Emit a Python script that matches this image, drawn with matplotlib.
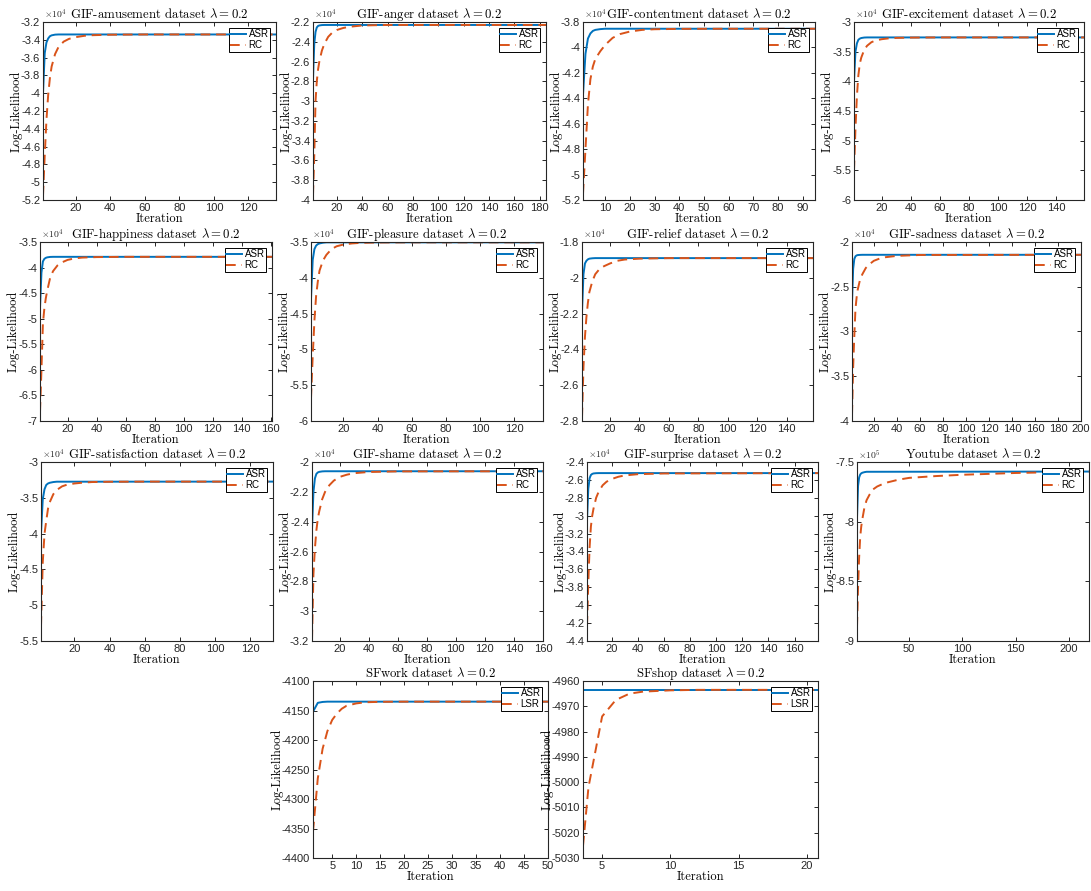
import numpy as np
import matplotlib
matplotlib.use('Agg')
import matplotlib.pyplot as plt
from matplotlib.ticker import FuncFormatter

plt.rcParams['mathtext.fontset'] = 'cm'

# iteration grids at which the curves were sampled
it_asr = [1, 2, 3, 4, 5, 6, 8, 10]
it_rc = [1, 2, 3, 4, 5, 6, 8, 10, 13, 16, 20, 25, 30, 40, 60]

datasets = ['GIF-amusement', 'GIF-anger', 'GIF-contentment', 'GIF-excitement',
            'GIF-happiness', 'GIF-pleasure', 'GIF-relief', 'GIF-sadness',
            'GIF-satisfaction', 'GIF-shame', 'GIF-surprise', 'Youtube',
            'SFwork', 'SFshop']
n_iter = [136, 185, 95, 159, 161, 137, 158, 200, 133, 160, 178, 219, 50, 21]

# log-likelihood, in units of 10^exponent (last value is the one at n_iter)
amusement_asr = [-4.0, -3.55, -3.43, -3.385, -3.36, -3.35, -3.342, -3.34, -3.34]
amusement_rc = [-5.15, -4.7, -4.3, -4.02, -3.83, -3.7, -3.56, -3.48, -3.42, -3.39,
                -3.37, -3.355, -3.348, -3.343, -3.34, -3.34]
anger_asr = [-2.78, -2.42, -2.3, -2.255, -2.24, -2.235, -2.231, -2.23, -2.23]
anger_rc = [-3.95, -3.55, -3.0, -2.8, -2.68, -2.6, -2.49, -2.42, -2.35, -2.31,
            -2.28, -2.26, -2.248, -2.235, -2.23, -2.23]
contentment_asr = [-4.37, -4.05, -3.93, -3.89, -3.87, -3.862, -3.856, -3.853, -3.853]
contentment_rc = [-5.15, -4.8, -4.45, -4.25, -4.15, -4.09, -4.03, -3.98, -3.925,
                  -3.895, -3.875, -3.862, -3.857, -3.854, -3.853, -3.853]
excitement_asr = [-4.0, -3.5, -3.36, -3.3, -3.28, -3.27, -3.262, -3.26, -3.26]
excitement_rc = [-5.5, -4.8, -4.25, -3.9, -3.7, -3.6, -3.47, -3.4, -3.34, -3.31,
                 -3.29, -3.275, -3.268, -3.263, -3.26, -3.26]
happiness_asr = [-4.79, -4.1, -3.88, -3.83, -3.81, -3.8, -3.792, -3.79, -3.79]
happiness_rc = [-6.82, -6.0, -5.1, -4.8, -4.6, -4.45, -4.2, -4.07, -3.96, -3.9,
                -3.85, -3.82, -3.805, -3.795, -3.79, -3.79]
pleasure_asr = [-4.29, -3.75, -3.6, -3.55, -3.53, -3.52, -3.51, -3.505, -3.505]
pleasure_rc = [-5.68, -5.1, -4.6, -4.25, -4.05, -3.9, -3.76, -3.68, -3.6, -3.56,
               -3.535, -3.52, -3.512, -3.507, -3.505, -3.505]
relief_asr = [-2.19, -1.98, -1.92, -1.905, -1.897, -1.893, -1.891, -1.89, -1.89]
relief_rc = [-2.78, -2.5, -2.33, -2.22, -2.14, -2.08, -2.02, -1.98, -1.95, -1.935,
             -1.92, -1.905, -1.898, -1.893, -1.89, -1.89]
sadness_asr = [-2.68, -2.3, -2.19, -2.16, -2.15, -2.146, -2.144, -2.143, -2.143]
sadness_rc = [-3.93, -3.4, -3.05, -2.75, -2.62, -2.53, -2.42, -2.36, -2.29, -2.25,
              -2.21, -2.185, -2.17, -2.155, -2.145, -2.143]
satisfaction_asr = [-4.0, -3.52, -3.38, -3.32, -3.3, -3.29, -3.28, -3.275, -3.274]
satisfaction_rc = [-5.29, -4.4, -4.0, -3.82, -3.65, -3.56, -3.45, -3.39, -3.34, -3.315,
                   -3.3, -3.288, -3.28, -3.276, -3.274, -3.274]
shame_asr = [-2.45, -2.2, -2.11, -2.08, -2.07, -2.066, -2.063, -2.062, -2.062]
shame_rc = [-3.19, -2.75, -2.58, -2.46, -2.38, -2.33, -2.25, -2.2, -2.155, -2.125,
            -2.1, -2.085, -2.075, -2.067, -2.063, -2.062]
surprise_asr = [-3.05, -2.7, -2.58, -2.545, -2.533, -2.528, -2.525, -2.524, -2.524]
surprise_rc = [-4.23, -3.75, -3.35, -3.12, -3.0, -2.92, -2.8, -2.73, -2.66, -2.62,
               -2.59, -2.565, -2.55, -2.536, -2.528, -2.524]
youtube_it_rc = [1, 2, 3, 4, 5, 6, 8, 10, 13, 16, 20, 25, 30, 40, 50, 75, 100, 150, 200]
youtube_asr = [-7.97, -7.7, -7.63, -7.605, -7.595, -7.59, -7.585, -7.582, -7.58]
youtube_rc = [-8.88, -8.55, -8.3, -8.13, -8.04, -7.98, -7.88, -7.82, -7.77, -7.73,
              -7.705, -7.685, -7.67, -7.648, -7.633, -7.618, -7.607, -7.592, -7.583, -7.581]
sfwork_it_lsr = [1, 2, 3, 4, 5, 6, 7, 8, 10, 12, 15, 20]
sfwork_asr = [-4152, -4137, -4135.5, -4135, -4135, -4135, -4135, -4135, -4135]
sfwork_lsr = [-4355, -4265, -4215, -4185, -4166, -4155, -4147, -4142, -4138, -4136,
              -4135.3, -4135, -4135]
sfshop_it_lsr = [1, 2, 3, 4, 5, 6, 7, 8, 10, 12]
sfshop_asr = [-4963.5, -4963.5, -4963.5, -4963.5, -4963.5, -4963.5, -4963.5, -4963.5, -4963.5]
sfshop_lsr = [-5180, -5120, -5060, -5002, -4974, -4967.5, -4965, -4964.2, -4963.7,
              -4963.5, -4963.5]

asr_values = [amusement_asr, anger_asr, contentment_asr, excitement_asr,
              happiness_asr, pleasure_asr, relief_asr, sadness_asr,
              satisfaction_asr, shame_asr, surprise_asr, youtube_asr,
              sfwork_asr, sfshop_asr]
rc_values = [amusement_rc, anger_rc, contentment_rc, excitement_rc,
             happiness_rc, pleasure_rc, relief_rc, sadness_rc,
             satisfaction_rc, shame_rc, surprise_rc, youtube_rc,
             sfwork_lsr, sfshop_lsr]
rc_iters = [it_rc] * 11 + [youtube_it_rc, sfwork_it_lsr, sfshop_it_lsr]
second_label = ['RC'] * 12 + ['LSR', 'LSR']

x_limits = [(1, n) for n in n_iter]
x_limits[13] = (3.6, 20.8)
y_limits = [(-5.2, -3.2), (-4, -2.2), (-5.2, -3.8), (-6, -3), (-7, -3.5), (-6, -3.5),
            (-2.8, -1.8), (-4, -2), (-5.5, -3), (-3.2, -2), (-4.4, -2.4), (-9, -7.5),
            (-4400, -4100), (-5030, -4960)]
y_steps = [0.2, 0.2, 0.2, 0.5, 0.5, 0.5, 0.2, 0.5, 0.5, 0.2, 0.2, 0.5, 50, 10]
x_steps = [20, 20, 10, 20, 20, 20, 20, 20, 20, 20, 20, 50, 5, 5]
exponents = [4] * 11 + [5, None, None]

# axes boxes in pixels: left, top, right, bottom
boxes = [(43, 22, 276, 200), (313, 22, 546, 200), (583, 22, 815, 200), (854, 22, 1084, 200),
         (40, 242, 272, 421), (311, 242, 543, 421), (582, 242, 813, 421), (852, 242, 1081, 421),
         (41, 462, 273, 641), (312, 462, 543, 641), (587, 462, 818, 641), (857, 462, 1089, 641),
         (313, 681, 548, 858), (583, 681, 818, 858)]

blue = (0, 0.447, 0.741)
orange = (0.85, 0.325, 0.098)
axis_gray = (0.15, 0.15, 0.15)
W, H = 1091, 891

fig = plt.figure(figsize=(W / 100, H / 100), dpi=100)

for i, name in enumerate(datasets):
    l, t, r, b = boxes[i]
    ax = fig.add_axes([l / W, 1 - b / H, (r - l) / W, (b - t) / H])
    n = n_iter[i]

    x_asr = it_asr + [n]
    x_rc = rc_iters[i] + [n]
    ax.plot(x_asr, asr_values[i], color=blue, lw=1.4, label='ASR')
    ax.plot(x_rc, rc_values[i], color=orange, lw=1.4, dashes=(5, 3),
            label=second_label[i])

    ax.set_xlim(*x_limits[i])
    ax.set_ylim(*y_limits[i])
    ax.set_xticks(np.arange(x_steps[i], n + 0.1, x_steps[i]))
    lo, hi = y_limits[i]
    ax.set_yticks(np.round(np.arange(lo, hi + y_steps[i] / 2, y_steps[i]), 6))
    ax.yaxis.set_major_formatter(FuncFormatter(lambda v, p: f'{v:g}'))
    ax.xaxis.set_major_formatter(FuncFormatter(lambda v, p: f'{v:g}'))

    ax.tick_params(direction='in', length=3, width=0.7, top=True, right=True,
                   labelsize=8, colors=axis_gray, pad=2)
    for lab in ax.get_xticklabels() + ax.get_yticklabels():
        lab.set_fontfamily('Liberation Sans')
    for sp in ax.spines.values():
        sp.set_color(axis_gray)
        sp.set_linewidth(0.8)

    ax.set_title(name + r' dataset $\lambda = 0.2$', fontfamily='cmr10',
                 fontsize=9.2, pad=3)
    ax.set_xlabel('Iteration', fontfamily='cmr10', fontsize=9, labelpad=0)
    ax.set_ylabel('Log-Likelihood', fontfamily='cmr10', fontsize=9, labelpad=-1)

    if exponents[i] is not None:
        ax.text(0.005, 1.005, r'$\times\mathsf{10^{%d}}$' % exponents[i],
                transform=ax.transAxes, fontsize=7, color=axis_gray,
                ha='left', va='bottom')

    leg = ax.legend(loc='upper right', prop={'family': 'Liberation Sans', 'size': 7},
                    frameon=True, fancybox=False, edgecolor='black', framealpha=1,
                    borderaxespad=0.6, borderpad=0.15, labelspacing=0.1,
                    handlelength=1.6, handletextpad=0.3)
    leg.get_frame().set_linewidth(0.7)

fig.savefig('out.png', dpi=100)
